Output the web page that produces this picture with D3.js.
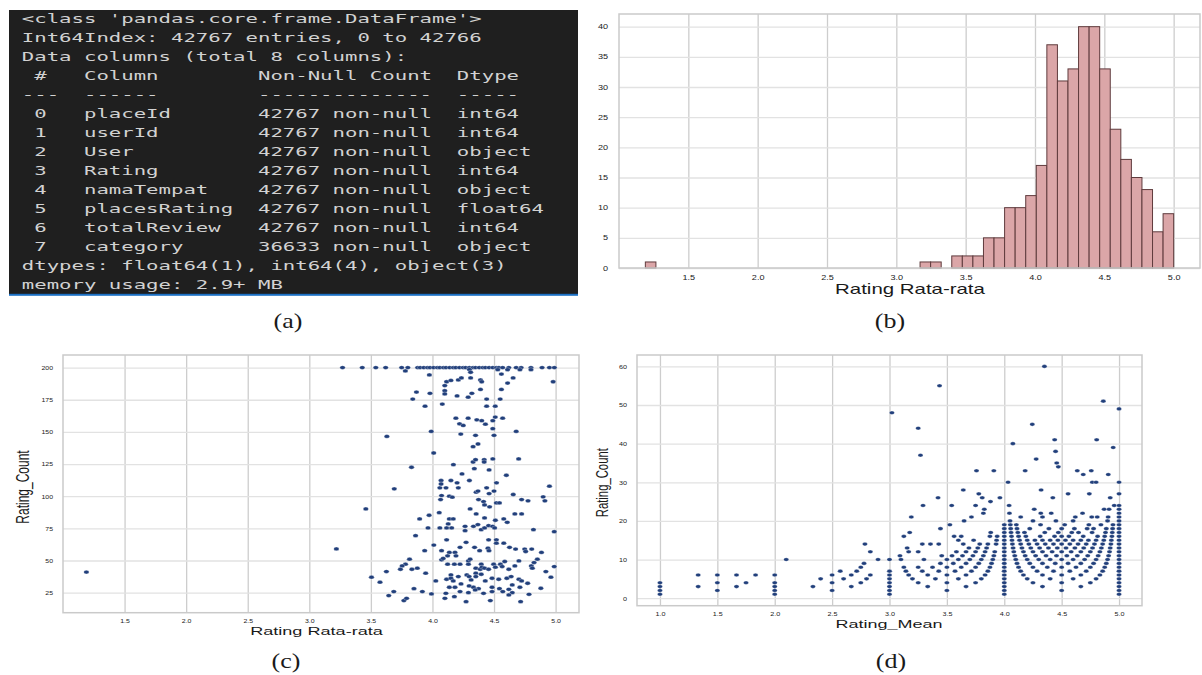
<!DOCTYPE html>
<html>
<head>
<meta charset="utf-8">
<script src="https://cdn.jsdelivr.net/npm/d3@7"></script>
<style>
  body { margin: 0; background: #fff; }
  svg { display: block; }
</style>
</head>
<body>
<div id="figure"></div>
<script>
const width = 1202;
const height = 675;

// (a) DataFrame.info() output
const infoHeader = [
  "<class 'pandas.core.frame.DataFrame'>",
  'Int64Index: 42767 entries, 0 to 42766',
  'Data columns (total 8 columns):'
];
const infoColumns = ['placeId', 'userId', 'User', 'Rating', 'namaTempat', 'placesRating', 'totalReview', 'category'];
const infoNonNull = [42767, 42767, 42767, 42767, 42767, 42767, 42767, 36633];
const infoDtypes = ['int64', 'int64', 'object', 'int64', 'object', 'float64', 'int64', 'object'];
const infoFooter = ['dtypes: float64(1), int64(4), object(3)', 'memory usage: 2.9+ MB'];

// (b) histogram of place rating mean (50 equal bins)
const histRange = [1.19, 5.0];
const histCounts = [
  1, 0, 0, 0, 0, 0, 0, 0, 0, 0,
  0, 0, 0, 0, 0, 0, 0, 0, 0, 0,
  0, 0, 0, 0, 0, 0, 1, 1, 0, 2,
  2, 2, 5, 5, 10, 10, 12, 17, 37, 31,
  33, 40, 40, 33, 23, 18, 15, 13, 6, 9
];
const ratingTicks = [1.5, 2.0, 2.5, 3.0, 3.5, 4.0, 4.5, 5.0];
const histYTicks = [0, 5, 10, 15, 20, 25, 30, 35, 40];

// (c) place rating mean vs rating count
const placePoints = [
  [1.19, 41],
  [3.27, 200], [3.43, 200], [3.54, 200], [3.62, 200], [3.75, 200], [3.80, 200], [3.88, 200], [3.90, 200],
  [3.93, 200], [3.96, 200], [3.98, 200], [4.01, 200], [4.04, 200], [4.06, 200], [4.09, 200], [4.11, 200],
  [4.14, 200], [4.17, 200], [4.19, 200], [4.22, 200], [4.25, 200], [4.27, 200], [4.30, 200], [4.33, 200],
  [4.35, 200], [4.38, 200], [4.41, 200], [4.43, 200], [4.46, 200], [4.49, 200], [4.52, 200], [4.54, 200],
  [4.57, 200], [4.62, 200], [4.68, 200], [4.72, 200], [4.80, 200], [4.89, 200], [4.95, 200], [4.99, 200],
  [3.78, 197.4], [4.30, 198.5], [4.31, 196.4], [4.53, 198.4], [4.61, 198.4], [4.71, 198.4], [4.80, 198.4],
  [4.56, 195], [3.975, 194.3],
  [4.115, 189], [4.15, 190], [4.21, 190.4], [4.235, 192], [4.31, 192], [4.39, 190.4], [4.40, 189],
  [4.61, 188], [4.655, 192], [4.98, 189],
  [4.10, 186], [4.10, 182], [4.10, 179.5], [4.39, 183], [4.56, 183],
  [3.87, 181], [3.98, 180], [4.20, 178], [4.29, 177], [4.32, 180], [3.84, 175.5], [4.44, 175.5], [4.55, 175.5],
  [3.94, 170], [4.08, 171.6], [4.44, 170], [4.51, 170],
  [4.19, 160.7], [4.29, 160.7], [4.36, 159.4], [4.40, 158.7], [4.43, 156], [4.49, 158.7], [4.51, 161.5],
  [4.57, 160.7], [4.22, 156.3], [4.25, 155],
  [3.63, 146.5], [3.99, 150.4], [4.23, 148.3], [4.35, 147.3], [4.50, 147.3], [4.49, 152.5], [4.68, 150.4],
  [4.33, 138.5], [4.37, 140.6], [4.01, 133.6],
  [4.17, 124.5], [4.33, 126.6], [4.35, 128.4], [4.42, 128.4], [4.42, 126.6], [4.49, 129], [4.70, 129],
  [4.34, 121.4], [4.46, 120.4], [4.60, 116.3], [3.83, 122.5], [4.24, 117.3],
  [4.07, 112.2], [4.15, 112.2], [4.30, 112.2], [4.20, 110.4], [4.52, 110.4], [4.95, 107.8], [3.69, 105.7],
  [4.06, 106.5], [4.11, 106.5], [4.21, 106.5], [4.355, 103.1], [4.37, 104], [4.44, 106.5], [4.46, 102],
  [4.50, 104], [4.07, 109.5],
  [4.074, 100.5], [4.066, 97.4], [4.137, 100], [4.161, 99.2], [4.656, 101.3], [4.724, 97.4], [4.776, 96.4],
  [4.899, 99.5], [4.913, 96.4], [4.374, 97.4], [4.415, 95.8], [4.423, 93.2], [4.519, 94.8], [4.544, 94.8],
  [4.464, 91.7], [3.459, 90.1], [4.306, 90.1], [4.055, 87.2], [3.973, 85.2], [4.355, 86.2], [4.669, 86.2],
  [4.724, 86.2], [3.896, 82.3], [4.137, 82.3], [4.169, 82.3], [4.423, 83.1], [4.511, 81.3], [4.579, 82.3],
  [4.607, 79.7], [4.128, 78.4], [3.964, 75.3], [4.060, 75.3], [4.115, 75.3], [4.156, 75.3], [4.265, 76.6],
  [4.265, 73.2], [4.333, 76.6], [4.369, 77.9], [4.396, 74.0], [4.423, 75.3], [4.456, 77.1], [4.489, 76.6],
  [4.505, 75.3], [4.820, 74.0], [4.989, 72.4], [3.863, 69.3], [3.22, 59],
  [4.115, 66.1], [4.273, 64.1], [4.456, 66.1], [4.519, 66.1], [4.519, 63.5], [4.579, 63.5],
  [3.937, 57.6], [4.074, 57.6], [4.137, 56.3], [4.183, 56.3], [4.224, 60.2], [4.342, 60.2], [4.383, 57.6],
  [4.451, 59.6], [4.459, 57.6], [4.626, 60.2], [4.675, 58.9], [4.749, 58.9], [4.757, 57.0], [4.806, 58.9],
  [4.885, 56.3], [4.011, 62.0],
  [3.814, 51.0], [3.781, 47.1], [3.754, 45.8], [4.074, 50.5], [4.087, 51.6], [4.123, 53.6], [4.191, 53.6],
  [4.123, 47.1], [4.178, 47.1], [4.224, 47.1], [4.292, 49.7], [4.292, 47.1], [4.306, 51.0], [4.396, 47.1],
  [4.497, 47.1], [4.552, 47.1], [4.587, 49.2], [4.702, 49.7], [4.669, 45.8], [4.803, 45.8], [4.825, 48.4],
  [4.852, 51.0], [4.811, 44.0],
  [3.740, 43.2], [3.833, 43.2], [3.877, 44.0], [3.626, 41.4], [3.945, 40.1], [4.352, 44.0], [4.388, 43.2],
  [4.402, 44.8], [4.423, 44.0], [4.352, 40.1], [4.456, 43.2], [4.511, 44.8], [4.566, 45.3], [4.620, 43.2],
  [4.921, 41.4], [4.989, 45.3],
  [3.505, 37.0], [3.574, 33.1], [4.027, 34.1], [4.115, 35.4], [4.150, 38.8], [4.150, 36.2], [4.169, 34.1],
  [4.210, 37.5], [4.279, 38.8], [4.298, 37.5], [4.314, 34.9], [4.352, 37.5], [4.396, 39.3], [4.429, 34.1],
  [4.484, 36.2], [4.538, 35.4], [4.604, 36.2], [4.639, 37.5], [4.702, 35.4], [4.724, 34.1], [4.773, 32.3],
  [4.962, 37.0],
  [3.850, 28.1], [3.918, 25.8], [4.137, 29.2], [4.183, 29.2], [4.232, 31.8], [4.298, 30.2], [4.333, 29.2],
  [4.374, 28.1], [4.484, 29.2], [4.544, 28.1], [4.620, 27.6], [4.648, 31.0], [4.710, 29.2], [4.880, 28.4],
  [3.686, 25.8], [3.645, 22.7], [3.768, 18.8], [3.790, 20.6], [3.992, 24.0], [4.101, 20.6], [4.109, 24.5],
  [4.178, 21.9], [4.224, 25.8], [4.273, 18.0], [4.292, 25.0], [4.347, 27.1], [4.470, 18.8], [4.484, 25.8],
  [4.571, 25.8], [4.648, 25.0], [4.716, 18.0], [4.784, 23.7], [4.415, 24.5], [4.620, 23.2]
];
const countTicksC = [25, 50, 75, 100, 125, 150, 175, 200];

// (d) user rating mean, grouped by rating count
const userRows = [
  [1, [1.0, 2.0, 3.0, 4.0, 5.0]],
  [2, [1.0, 1.5, 2.0, 2.5, 3.0, 3.5, 4.0, 4.5, 5.0]],
  [3, [1.0, 1.333, 1.667, 2.0, 2.333, 2.667, 3.0, 3.333, 3.667, 4.0, 4.333, 4.667, 5.0]],
  [4, [1.0, 1.5, 1.75, 2.0, 2.5, 2.75, 3.0, 3.25, 3.5, 3.75, 4.0, 4.25, 4.5, 4.75, 5.0]],
  [5, [2.4, 2.6, 2.8, 3.0, 3.2, 3.4, 3.6, 3.8, 4.0, 4.2, 4.4, 4.6, 4.8, 5.0]],
  [6, [1.333, 1.5, 1.667, 1.833, 2.0, 2.5, 2.667, 2.833, 3.0, 3.167, 3.333, 3.5, 3.667, 3.833, 4.0, 4.167,
       4.333, 4.5, 4.667, 4.833, 5.0]],
  [7, [2.571, 2.714, 3.0, 3.143, 3.286, 3.429, 3.571, 3.714, 3.857, 4.0, 4.143, 4.286, 4.429, 4.571, 4.714,
       4.857, 5.0]],
  [8, [2.75, 3.125, 3.25, 3.375, 3.5, 3.625, 3.75, 3.875, 4.0, 4.125, 4.25, 4.375, 4.5, 4.625, 4.75, 4.875, 5.0]],
  [9, [2.778, 3.444, 3.556, 3.667, 3.778, 3.889, 4.0, 4.111, 4.222, 4.333, 4.444, 4.556, 4.667, 4.778, 4.889, 5.0]],
  [10, [2.1, 2.9, 3.0, 3.1, 3.3, 3.5, 3.6, 3.7, 3.8, 3.9, 4.0, 4.1, 4.2, 4.3, 4.4, 4.5, 4.6, 4.7, 4.8, 4.9, 5.0]],
  [11, [3.091, 3.455, 3.545, 3.636, 3.727, 3.818, 3.909, 4.0, 4.091, 4.182, 4.273, 4.364, 4.455, 4.545, 4.636,
        4.727, 4.818, 4.909, 5.0]],
  [12, [2.833, 3.167, 3.25, 3.583, 3.667, 3.75, 3.833, 3.917, 4.0, 4.083, 4.167, 4.25, 4.333, 4.417, 4.5, 4.583,
        4.667, 4.75, 4.833, 4.917, 5.0]],
  [13, [3.154, 3.692, 3.769, 3.846, 4.0, 4.077, 4.154, 4.231, 4.308, 4.385, 4.462, 4.538, 4.615, 4.692, 4.769,
        4.846, 4.923, 5.0]],
  [14, [2.786, 3.286, 3.357, 3.429, 3.643, 3.786, 3.857, 3.929, 4.0, 4.071, 4.143, 4.214, 4.286, 4.357, 4.429,
        4.5, 4.571, 4.643, 4.714, 4.786, 4.857, 4.929, 5.0]],
  [15, [3.6, 3.733, 3.933, 4.0, 4.067, 4.133, 4.2, 4.267, 4.333, 4.4, 4.467, 4.533, 4.6, 4.667, 4.733, 4.8,
        4.867, 4.933, 5.0]],
  [16, [3.125, 3.563, 3.625, 3.875, 3.938, 4.0, 4.063, 4.125, 4.188, 4.313, 4.438, 4.5, 4.563, 4.688, 4.813,
        4.875, 4.938, 5.0]],
  [17, [3.176, 3.882, 4.0, 4.059, 4.118, 4.176, 4.353, 4.471, 4.588, 4.647, 4.765, 4.882, 4.941, 5.0]],
  [18, [3.444, 4.0, 4.056, 4.111, 4.222, 4.389, 4.5, 4.611, 4.722, 4.778, 4.889, 4.944, 5.0]],
  [19, [3.526, 4.0, 4.053, 4.105, 4.316, 4.526, 4.737, 4.842, 4.947, 5.0]],
  [20, [3.65, 4.05, 4.25, 4.45, 4.6, 4.9, 5.0]],
  [21, [3.19, 3.714, 4.143, 4.333, 4.619, 4.762, 4.81, 4.905, 5.0]],
  [22, [3.818, 4.045, 4.318, 4.409, 4.682, 5.0]],
  [23, [3.826, 4.261, 4.87, 4.913, 5.0]],
  [24, [3.292, 3.542, 3.75, 4.042, 4.958, 5.0]],
  [25, [3.88]],
  [26, [3.423, 3.808, 3.962, 4.423, 4.923]],
  [27, [3.778, 4.556, 4.741, 5.0]],
  [28, [3.643, 4.321]],
  [30, [4.033, 4.767, 4.8, 5.0]],
  [32, [4.688, 4.906]],
  [33, [3.758, 3.909, 4.182, 4.636, 4.758]],
  [34, [4.471]],
  [35, [4.457]],
  [36, [4.278]],
  [37, [3.27]],
  [38, [4.447]],
  [39, [4.949]],
  [40, [4.075]],
  [41, [4.439, 4.805]],
  [44, [3.25]],
  [45, [4.244]],
  [48, [3.021]],
  [49, [5.0]],
  [51, [4.863]],
  [55, [3.436]],
  [60, [4.35]]
];
const meanTicksD = [1.0, 1.5, 2.0, 2.5, 3.0, 3.5, 4.0, 4.5, 5.0];
const countTicksD = [0, 10, 20, 30, 40, 50, 60];

const svg = d3.select('#figure')
  .append('svg')
  .attr('width', width)
  .attr('height', height);

svg.append('rect').attr('width', width).attr('height', height).attr('fill', '#fff');

// text squeezed/stretched horizontally, like the screenshot
function wideText(parent, x, y, sx, str, size, family, anchor) {
  return parent.append('text')
    .attr('transform', `translate(${x},${y}) scale(${sx},1)`)
    .attr('text-anchor', anchor || 'middle')
    .attr('font-family', family)
    .attr('font-size', size)
    .attr('fill', '#1a1a1a')
    .text(str);
}

const sansFont = "'Liberation Sans', Arial, sans-serif";
const serifFont = "'Liberation Serif', 'Times New Roman', serif";

function drawPanel(o) {
  const x = d3.scaleLinear().domain(o.xDomain).range([o.left, o.right]);
  const y = d3.scaleLinear().domain(o.yDomain).range([o.bottom, o.top]);
  const g = svg.append('g');

  // grid lines
  const gx = g.append('g')
    .attr('transform', `translate(0,${o.bottom})`)
    .call(d3.axisBottom(x).tickValues(o.xTicks).tickSize(o.top - o.bottom).tickFormat(''));
  gx.select('.domain').remove();
  gx.selectAll('line').attr('stroke', '#cdcdcd').attr('stroke-width', 1.3);

  const gy = g.append('g')
    .attr('transform', `translate(${o.left},0)`)
    .call(d3.axisLeft(y).tickValues(o.yTicks).tickSize(o.left - o.right).tickFormat(''));
  gy.select('.domain').remove();
  gy.selectAll('line').attr('stroke', '#e2e2e2').attr('stroke-width', 1.3);

  const marks = g.append('g');

  g.append('rect')
    .attr('x', o.left).attr('y', o.top)
    .attr('width', o.right - o.left).attr('height', o.bottom - o.top)
    .attr('fill', 'none').attr('stroke', '#cacaca').attr('stroke-width', 1.5);

  // tick labels
  const lx = g.append('g')
    .attr('transform', `translate(0,${o.bottom})`)
    .call(d3.axisBottom(x).tickValues(o.xTicks).tickSize(0).tickPadding(o.xPad).tickFormat(d3.format('.1f')));
  lx.select('.domain').remove();
  lx.attr('font-family', sansFont).attr('font-size', o.tickFont).attr('color', '#222');
  lx.selectAll('text').attr('transform', `scale(${o.tickSx},1)`);

  const ly = g.append('g')
    .attr('transform', `translate(${o.left},0)`)
    .call(d3.axisLeft(y).tickValues(o.yTicks).tickSize(0).tickPadding(o.yPad / o.tickSx).tickFormat(d3.format('d')));
  ly.select('.domain').remove();
  ly.attr('font-family', sansFont).attr('font-size', o.tickFont).attr('color', '#222');
  ly.selectAll('text').attr('transform', `scale(${o.tickSx},1)`);

  return { x, y, g, marks };
}

// ---------- (a) ----------
const infoLines = infoHeader.concat(
  [' #   Column        Non-Null Count  Dtype ', '---  ------        --------------  -----'],
  infoColumns.map((c, i) => ` ${i}   ${c.padEnd(12)}  ${infoNonNull[i]} non-null  ${infoDtypes[i]}`),
  infoFooter
);

const consoleG = svg.append('g');
consoleG.append('rect')
  .attr('x', 9).attr('y', 10).attr('width', 569).attr('height', 285)
  .attr('fill', '#1f1f1f');
consoleG.append('rect')
  .attr('x', 9).attr('y', 293.8).attr('width', 569).attr('height', 2)
  .attr('fill', '#1c70c4');

const consoleText = consoleG.append('g')
  .attr('transform', 'translate(21.8,0) scale(1.653,1)');
consoleText.selectAll('text')
  .data(infoLines)
  .enter()
  .append('text')
  .attr('x', 0)
  .attr('y', (d, i) => 23.3 + i * 19)
  .attr('xml:space', 'preserve')
  .style('white-space', 'pre')
  .attr('font-family', "'DejaVu Sans Mono', monospace")
  .attr('font-size', 12.5)
  .attr('fill', '#d2d2d2')
  .text(d => d);

wideText(svg, 288, 328, 1.3, '(a)', 20, serifFont);

// ---------- (b) ----------
const pb = drawPanel({
  left: 619, right: 1200, top: 14, bottom: 268,
  xDomain: [1.0, 5.19], yDomain: [0, 42.1],
  xTicks: ratingTicks, yTicks: histYTicks,
  tickFont: 6.5, tickSx: 1.4, xPad: 7, yPad: 11
});
const binW = (histRange[1] - histRange[0]) / histCounts.length;
const bins = histCounts.map((c, i) => ({
  x0: histRange[0] + i * binW,
  x1: histRange[0] + (i + 1) * binW,
  count: c
})).filter(d => d.count > 0);

pb.marks.selectAll('rect.bar')
  .data(bins)
  .enter()
  .append('rect')
  .attr('class', 'bar')
  .attr('x', d => pb.x(d.x0))
  .attr('width', d => pb.x(d.x1) - pb.x(d.x0))
  .attr('y', d => pb.y(d.count))
  .attr('height', d => pb.y(0) - pb.y(d.count))
  .attr('fill', '#dba6a8')
  .attr('stroke', '#5f3b3d')
  .attr('stroke-width', 1);

wideText(svg, 910, 293.7, 1.46, 'Rating Rata-rata', 14, sansFont);
wideText(svg, 890, 328, 1.3, '(b)', 20, serifFont);

// ---------- (c) ----------
const pc = drawPanel({
  left: 63, right: 579, top: 355, bottom: 612.7,
  xDomain: [1.0, 5.19], yDomain: [9.4, 209.8],
  xTicks: ratingTicks, yTicks: countTicksC,
  tickFont: 5.8, tickSx: 1.2, xPad: 6, yPad: 10
});
pc.marks.selectAll('ellipse')
  .data(placePoints)
  .enter()
  .append('ellipse')
  .attr('cx', d => pc.x(d[0]))
  .attr('cy', d => pc.y(d[1]))
  .attr('rx', 2.7)
  .attr('ry', 1.9)
  .attr('fill', '#213f7b')
  .attr('stroke', '#fff')
  .attr('stroke-width', 0.3);

wideText(svg, 316.5, 635.3, 1.56, 'Rating Rata-rata', 11.6, sansFont);
svg.append('text')
  .attr('transform', 'translate(28.5,487) scale(1.5,1) rotate(-90)')
  .attr('text-anchor', 'middle')
  .attr('font-family', sansFont)
  .attr('font-size', 12)
  .attr('fill', '#1a1a1a')
  .text('Rating_Count');
wideText(svg, 286, 668, 1.3, '(c)', 20, serifFont);

// ---------- (d) ----------
const pd = drawPanel({
  left: 637, right: 1142, top: 355, bottom: 605.7,
  xDomain: [0.8, 5.2], yDomain: [-1.95, 62.95],
  xTicks: meanTicksD, yTicks: countTicksD,
  tickFont: 6, tickSx: 1.2, xPad: 6, yPad: 10
});
const userPoints = userRows.flatMap(([n, means]) => means.map(m => [m, n]));
pd.marks.selectAll('ellipse')
  .data(userPoints)
  .enter()
  .append('ellipse')
  .attr('cx', d => pd.x(d[0]))
  .attr('cy', d => pd.y(d[1]))
  .attr('rx', 2.6)
  .attr('ry', 1.8)
  .attr('fill', '#213f7b')
  .attr('stroke', '#fff')
  .attr('stroke-width', 0.3);

wideText(svg, 889, 628, 1.55, 'Rating_Mean', 11.6, sansFont);
svg.append('text')
  .attr('transform', 'translate(608,482.7) scale(1.45,1) rotate(-90)')
  .attr('text-anchor', 'middle')
  .attr('font-family', sansFont)
  .attr('font-size', 11.3)
  .attr('fill', '#1a1a1a')
  .text('Rating_Count');
wideText(svg, 891, 667.5, 1.3, '(d)', 20, serifFont);
</script>
</body>
</html>
